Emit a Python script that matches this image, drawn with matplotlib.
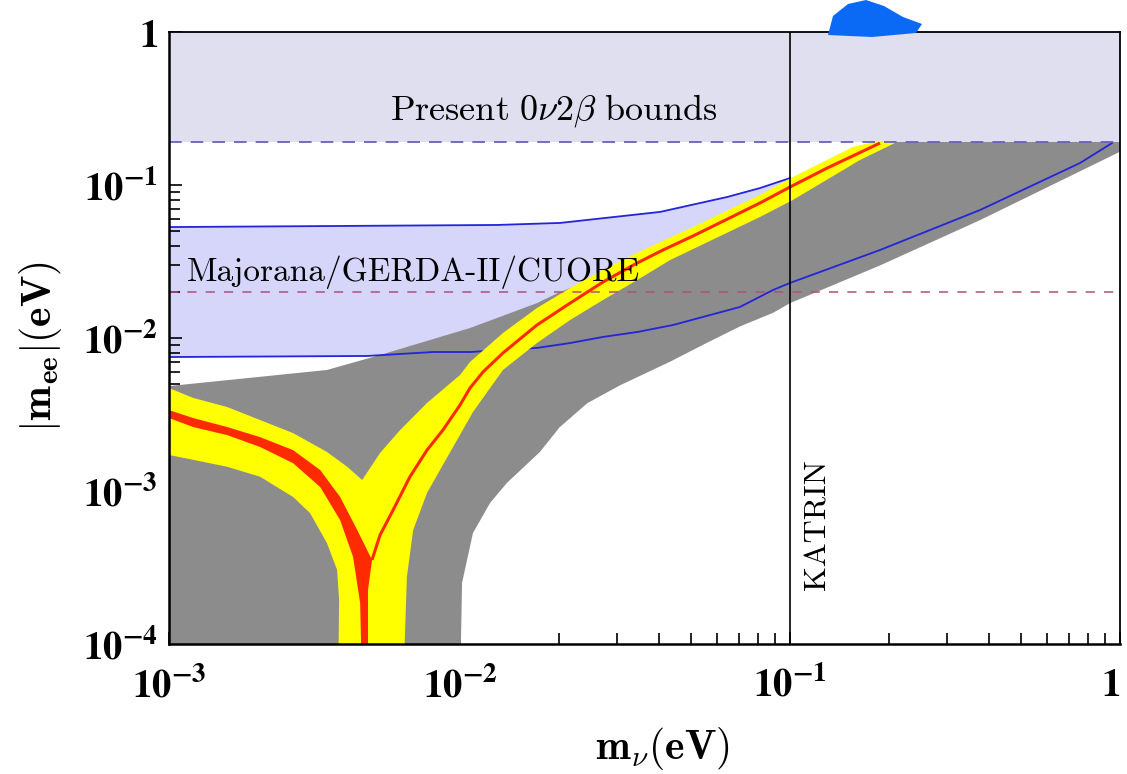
import matplotlib
matplotlib.use('Agg')
import matplotlib.pyplot as plt
import numpy as np
from matplotlib.patches import Polygon

plt.rcParams['mathtext.fontset'] = 'cm'

# axis range
x_min, x_max = 1.312e-3, 1.0
y_min, y_max = 1e-4, 1.0
y_floor = 5e-5  # bands run off the bottom of the frame

# present 0v2b bound and future sensitivity, KATRIN reach
present_bound = 0.19
future_bound = 0.020
katrin_mass = 0.1

# inverted-hierarchy band (blue edged, lavender)
ih_low_x = [1.312e-3, 5.22e-3, 8.28e-3, 1.072e-2, 1.71e-2, 2.155e-2, 2.71e-2, 3.44e-2,
            4.42e-2, 7.05e-2, 8.88e-2, 0.1, 0.1874, 0.377, 0.757, 0.946]
ih_low_y = [7.51e-3, 7.63e-3, 8.1e-3, 8.1e-3, 8.61e-3, 9.27e-3, 1.016e-2, 1.094e-2,
            1.216e-2, 1.595e-2, 2.06e-2, 2.29e-2, 3.76e-2, 6.87e-2, 0.1393, 0.188]
ih_up_x = [1.312e-3, 1.294e-2, 2.01e-2, 4.04e-2, 6.45e-2, 8.11e-2, 0.1]
ih_up_y = [0.0531, 0.0548, 0.0565, 0.0667, 0.0835, 0.0955, 0.111]

# grey 3-sigma region: upper edge (left to right), lower edge (right to left)
grey_up_x = [1.312e-3, 3.95e-3, 5.72e-3, 1.072e-2, 1.71e-2, 2.01e-2, 2.155e-2, 2.71e-2,
             3.44e-2, 4.12e-2, 5.08e-2, 8.11e-2, 0.1, 0.1295, 0.1874, 0.1874, 1.0]
grey_up_y = [4.85e-3, 6.18e-3, 7.74e-3, 1.162e-2, 1.69e-2, 2.0e-2, 2.12e-2, 2.32e-2,
             3.09e-2, 3.76e-2, 4.64e-2, 7.63e-2, 9.7e-2, 0.129, 0.188, 1.0, 1.0]
grey_low_x = [1.0, 0.757, 0.377, 0.1874, 0.1, 8.88e-2, 7.05e-2, 5.60e-2, 4.33e-2,
              3.05e-2, 2.43e-2, 2.0e-2, 1.746e-2, 1.387e-2, 1.233e-2, 1.094e-2,
              1.014e-2, 1.0e-2]
grey_low_y = [0.165, 0.123, 0.059, 0.0298, 0.0169, 0.0146, 1.19e-2, 9.3e-3, 7.0e-3,
              4.9e-3, 3.75e-3, 2.6e-3, 1.8e-3, 1.13e-3, 8.35e-4, 5.31e-4, 2.51e-4, y_floor]

# yellow band, outline traced clockwise from the left axis
yel_x = [1.312e-3, 1.552e-3, 1.968e-3, 2.477e-3, 3.119e-3, 3.95e-3, 4.55e-3, 5.05e-3,
         5.72e-3, 6.58e-3, 7.94e-3, 1.0e-2, 1.072e-2, 1.349e-2, 1.71e-2, 2.155e-2,
         2.71e-2, 3.44e-2, 5.08e-2, 8.11e-2, 0.102, 0.155, 0.1786, 0.211,
         0.163, 0.102, 8.11e-2, 4.33e-2, 3.44e-2, 2.71e-2, 2.155e-2, 1.71e-2,
         1.349e-2, 1.094e-2, 8.87e-3, 7.94e-3, 7.21e-3, 6.90e-3, 6.72e-3,
         4.27e-3, 4.30e-3, 4.24e-3, 3.95e-3, 3.51e-3, 3.119e-3, 2.477e-3,
         1.968e-3, 1.552e-3, 1.312e-3]
yel_y = [4.71e-3, 4.06e-3, 3.54e-3, 2.91e-3, 2.39e-3, 1.80e-3, 1.44e-3, 1.18e-3,
         1.77e-3, 2.50e-3, 3.76e-3, 5.73e-3, 6.97e-3, 1.078e-2, 1.57e-2, 2.12e-2,
         2.78e-2, 3.60e-2, 5.31e-2, 8.61e-2, 0.1128, 0.177, 0.191, 0.191,
         0.1457, 0.0798, 0.0618, 0.0323, 0.0239, 0.0177, 0.0131, 9.27e-3,
         6.18e-3, 3.28e-3, 1.48e-3, 9.7e-4, 5.56e-4, 2.74e-4, y_floor,
         y_floor, 1.94e-4, 3.05e-4, 4.57e-4, 7.18e-4, 9.14e-4, 1.24e-3,
         1.44e-3, 1.60e-3, 1.72e-3]

# red best fit: thick left branch and stem, thin right branch
red_left_x = [1.312e-3, 1.552e-3, 1.968e-3, 2.477e-3, 3.119e-3, 3.77e-3, 4.33e-3, 4.88e-3,
              5.41e-3, 5.26e-3, 5.26e-3, 5.05e-3, 4.98e-3, 4.74e-3, 4.33e-3, 3.77e-3,
              3.119e-3, 2.477e-3, 1.968e-3, 1.552e-3, 1.312e-3]
red_left_y = [3.38e-3, 3.0e-3, 2.62e-3, 2.25e-3, 1.85e-3, 1.37e-3, 9.14e-4, 5.56e-4,
              3.54e-4, 2.25e-4, y_floor, y_floor, 1.85e-4, 3.71e-4, 6.46e-4, 1.06e-3,
              1.52e-3, 1.94e-3, 2.32e-3, 2.62e-3, 3.0e-3]
red_right_x = [5.41e-3, 5.72e-3, 6.27e-3, 7.05e-3, 7.94e-3, 8.87e-3, 1.0e-2, 1.072e-2,
               1.174e-2, 1.349e-2, 1.71e-2, 2.155e-2, 2.71e-2, 3.44e-2, 4.12e-2,
               5.08e-2, 8.11e-2, 0.1, 0.1295, 0.1874]
red_right_y = [3.54e-4, 5.15e-4, 7.52e-4, 1.24e-3, 1.85e-3, 2.50e-3, 3.65e-3, 4.71e-3,
               6.0e-3, 7.98e-3, 1.216e-2, 1.69e-2, 2.32e-2, 3.09e-2, 3.76e-2,
               4.64e-2, 7.63e-2, 9.7e-2, 0.129, 0.188]

x_ticks = [x_min, 1e-2, 1e-1, 1.0]
x_tick_labels = [r'$\mathbf{10^{-3}}$', r'$\mathbf{10^{-2}}$', r'$\mathbf{10^{-1}}$', r'$\mathbf{1}$']
y_ticks = [1e-4, 1e-3, 1e-2, 1e-1, 1.0]
y_tick_labels = [r'$\mathbf{10^{-4}}$', r'$\mathbf{10^{-3}}$', r'$\mathbf{10^{-2}}$',
                 r'$\mathbf{10^{-1}}$', r'$\mathbf{1}$']

fig = plt.figure(figsize=(11.27, 7.74), dpi=100)
ax = fig.add_axes([169/1127, 1-644/774, 951/1127, 612/774])
ax.set_xscale('log')
ax.set_yscale('log')
ax.set_xlim(x_min, x_max)
ax.set_ylim(y_min, y_max)

# IH band only shows left of KATRIN, the rest is covered
n_lo = ih_low_x.index(0.1) + 1
ax.fill(ih_low_x[:n_lo] + ih_up_x[::-1], ih_low_y[:n_lo] + ih_up_y[::-1],
        color='#d6d6fa', lw=0, zorder=1)
ax.fill(grey_up_x + grey_low_x + [x_min], grey_up_y + grey_low_y + [y_floor],
        color='#8c8c8c', lw=0, zorder=2)
ax.plot(ih_low_x, ih_low_y, color='#2424d8', lw=1.3, zorder=3)
ax.plot(ih_up_x, ih_up_y, color='#2424d8', lw=1.3, zorder=3)
ax.fill(yel_x, yel_y, color='#ffff00', lw=0, zorder=4)
ax.fill(red_left_x, red_left_y, color='#ff2a00', lw=0, zorder=5)
ax.plot(red_right_x, red_right_y, color='#ff2a00', lw=2.2, zorder=5, solid_capstyle='butt')

# present bounds band
ax.axhspan(present_bound, y_max, color='#e0dff0', lw=0, zorder=6)
ax.axhline(present_bound, color='#6464b8', lw=1.3, ls=(0, (7, 5)), zorder=7)
ax.axhline(future_bound, color='#b0507a', lw=1.1, ls=(0, (6, 6)), zorder=7)
ax.axvline(katrin_mass, color='black', lw=1.2, zorder=7)

ax.text(0.0193, 0.305, r'$\mathrm{Present\ 0\nu2\beta\ bounds}$', fontsize=26,
        ha='center', va='center', zorder=8)
ax.text(7.21e-3, 0.027, 'Majorana/GERDA-II/CUORE', family='cmr10', fontsize=24,
        ha='center', va='center', zorder=8)
ax.text(0.1216, 6.0e-4, 'KATRIN', family='cmr10', fontsize=23, rotation=90,
        ha='center', va='center', zorder=8)

ax.set_xticks(x_ticks)
ax.set_xticklabels(x_tick_labels, fontsize=28)
ax.set_yticks(y_ticks)
ax.set_yticklabels(y_tick_labels, fontsize=28)
for lab in ax.get_xticklabels() + ax.get_yticklabels():
    lab.set_math_fontfamily('stix')
# the last x label sits at the figure edge; keep it inside
ax.get_xticklabels()[-1].set_horizontalalignment('right')
ax.tick_params(which='both', direction='in', top=False, right=False, width=1.2)
ax.tick_params(which='major', length=9, pad=8)
ax.tick_params(which='minor', length=8)
ax.tick_params(axis='x', which='major', pad=16)
for side in ['left', 'bottom']:
    ax.spines[side].set_linewidth(1.8)
for side in ['top', 'right']:
    ax.spines[side].set_linewidth(1.3)
for sp in ax.spines.values():
    sp.set_zorder(9)

fig.text(40/1127, 1-347/774, r'$\mathbf{|m_{ee}|(eV)}$', fontsize=30, rotation=90,
         ha='center', va='center')
fig.text(662/1127, 1-748/774, r'$\mathbf{m_{\nu}(eV)}$', fontsize=30,
         ha='center', va='center')

# blue scribble above the frame
blob = [(828, 35), (833, 16), (848, 4), (866, 0), (884, 6), (903, 17), (922, 24),
        (916, 33), (872, 37)]
fig.patches.append(Polygon([(px/1127, 1-py/774) for px, py in blob], closed=True,
                           transform=fig.transFigure, color='#0a6af5', lw=0))

fig.savefig('out.png', dpi=100)
